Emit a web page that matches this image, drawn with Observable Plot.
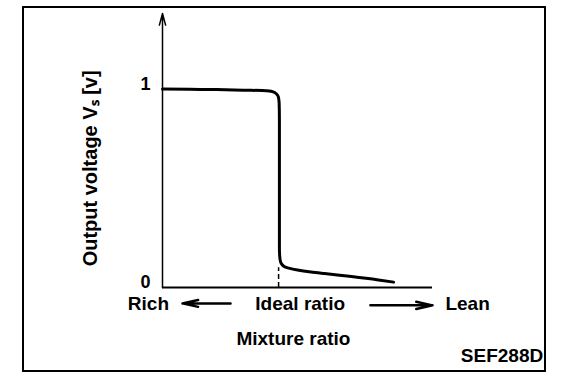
<!DOCTYPE html>
<html><head><meta charset="utf-8">
<script src="https://cdn.jsdelivr.net/npm/d3@7"></script>
<script src="https://cdn.jsdelivr.net/npm/@observablehq/plot@0.6"></script>
<style>
body{margin:0;background:#fff;}
#wrap{position:relative;width:576px;height:386px;}
#box{position:absolute;left:22px;top:6px;width:520px;height:362px;border:2px solid #000;pointer-events:none;}
svg text{font-family:"Liberation Sans",Arial,sans-serif;}
</style></head>
<body><div id="wrap"><div id="box"></div></div>
<script>
// Mixture ratio (arbitrary units, ideal ratio at 43) vs sensor output voltage [V]
const mixX = [0, 10, 20, 30, 37, 39.5, 41, 42.2, 42.9, 43.2, 43.3, 43.3, 43.3, 43.4, 43.7, 44.3, 45.5, 47.5, 50, 55, 60, 70, 80, 85.6];
const voltV = [1.0, 0.999, 0.997, 0.994, 0.992, 0.99, 0.985, 0.975, 0.96, 0.93, 0.85, 0.5, 0.2, 0.16, 0.13, 0.115, 0.103, 0.095, 0.088, 0.078, 0.07, 0.055, 0.038, 0.027];
const idealX = 43;
const yTicks = [0, 1];
const dirLabels = ["Rich", "Ideal ratio", "Lean"];
const dirX = [-5.2, 51, 113];
const xTitle = "Mixture ratio";
const yTitle = "Output voltage Vₛ [v]";
const figCode = "SEF288D";

const curve = mixX.map((x, i) => ({x, v: voltV[i]}));
const dirs = dirLabels.map((t, i) => ({t, x: dirX[i]}));
const F = 19;

const plot = Plot.plot({
  width: 576, height: 386,
  marginLeft: 162, marginRight: 144, marginTop: 13, marginBottom: 99,
  x: {domain: [0, 100], axis: null},
  y: {domain: [0, 1.38], axis: null},
  marks: [
    Plot.arrow([{}], {x1: 0, x2: 0, y1: 0, y2: 1.38, stroke: "#000", strokeWidth: 1.5, headLength: 12, headAngle: 30, bend: 0}),
    Plot.ruleY([0], {x1: 0, x2: 100, stroke: "#000", strokeWidth: 2}),
    Plot.ruleX([idealX], {y1: 0, y2: 0.1, stroke: "#000", strokeWidth: 1.5, strokeDasharray: "5,3"}),
    Plot.line(curve, {x: "x", y: "v", stroke: "#000", strokeWidth: 3, curve: "monotone-y"}),
    Plot.text(yTicks, {x: -6.3, y: d => d, dy: -5, text: d => String(d), fontSize: 18, fontWeight: "bold", textAnchor: "middle"}),
    Plot.text(dirs, {x: "x", y: -0.085, text: "t", fontSize: F, fontWeight: "bold", textAnchor: "middle"}),
    Plot.arrow([{}], {x1: 25.2, x2: 7.4, y1: -0.08, y2: -0.08, stroke: "#000", strokeWidth: 2.5, headLength: 10, headAngle: 25}),
    Plot.arrow([{}], {x1: 77, x2: 100, y1: -0.09, y2: -0.09, stroke: "#000", strokeWidth: 2.5, headLength: 10, headAngle: 25}),
    Plot.text([xTitle], {x: 48.5, y: -0.26, text: d => d, fontSize: F, fontWeight: "bold"}),
    Plot.text([yTitle], {x: -26.5, y: 0.60, text: d => d, fontSize: 20, fontWeight: "bold", rotate: -90}),
    Plot.text([figCode], {x: 141, y: -0.345, text: d => d, fontSize: F, fontWeight: "bold", textAnchor: "end"})
  ]
});
document.getElementById("wrap").prepend(plot);
</script></body></html>
